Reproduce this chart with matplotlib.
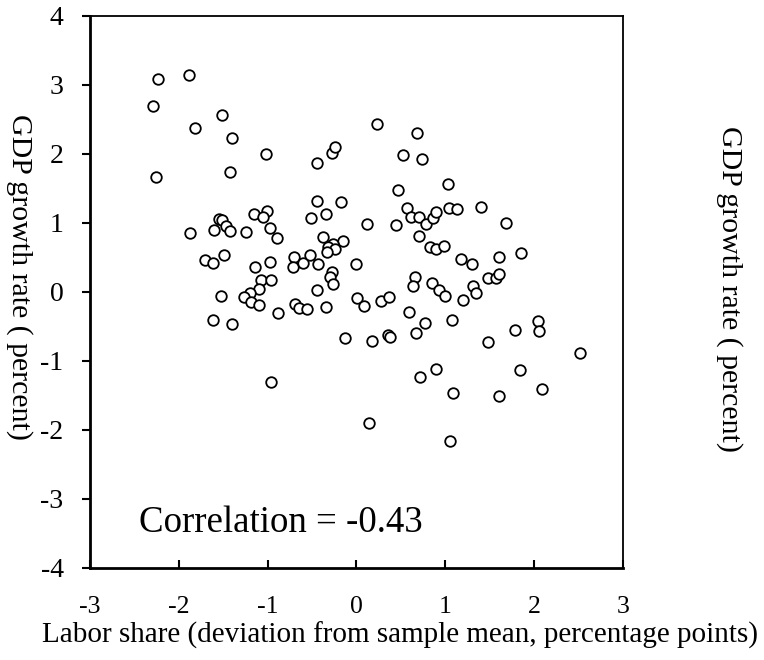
import matplotlib
matplotlib.use("Agg")
import matplotlib.pyplot as plt

plt.rcParams['font.family'] = ['Liberation Serif', 'DejaVu Serif']
plt.rcParams['axes.unicode_minus'] = False

# donnees : ecart de la part salariale vs croissance du PIB
labor_share = [
    -2.24, -1.89, -2.29, -1.51, -1.82, -1.40, -1.02, -0.28, -0.24, -0.45,
    -2.26, -1.42, -0.44, -0.17, -1.01, -1.15, -1.05, -0.34, -0.51, -1.55,
    -1.51, -1.47, -1.42, -1.60, -1.87, -1.24, -0.97, -0.89, -0.38, -0.15,
    -0.26, -0.32, -0.24, -0.33, -1.71, -1.61, -1.49, -1.14, -0.97, -0.70,
    -0.71, -0.60, -0.52, -0.43, -0.27, -0.30, -0.26, 0.00, -1.07, -0.96,
    -1.10, -1.20, -1.53, -1.27, -0.44, 0.01,
    -1.19, -1.10, -1.61, -1.40, -0.88, -0.69, -0.65, -0.56, -0.34, -0.13, -0.96,
    0.23, 0.68, 0.52, 0.74, 1.03, 0.47, 0.57, 0.61, 0.70, 0.78,
    0.86, 0.90, 1.04, 1.13, 1.40, 0.12, 0.44, 1.68, 0.70, 0.83,
    0.90, 0.98, 1.18, 1.30, 1.61, 1.85, 0.66, 0.64, 0.85, 0.93,
    1.00, 1.31, 1.34, 1.48, 1.57, 1.60,
    0.09, 0.28, 0.37, 1.20, 0.59, 0.17, 0.35, 0.38, 0.67, 0.77,
    1.08, 1.48, 1.78, 2.04, 2.05, 2.52, 0.72, 0.89, 1.84, 1.09,
    1.61, 2.09, 0.14, 1.05,
]
gdp_growth = [
    3.09, 3.15, 2.69, 2.57, 2.38, 2.23, 2.00, 2.02, 2.10, 1.87,
    1.67, 1.74, 1.32, 1.30, 1.18, 1.13, 1.09, 1.13, 1.07, 1.06,
    1.04, 0.96, 0.89, 0.90, 0.86, 0.87, 0.93, 0.78, 0.79, 0.74,
    0.70, 0.65, 0.63, 0.58, 0.47, 0.42, 0.54, 0.36, 0.43, 0.50,
    0.36, 0.42, 0.53, 0.41, 0.29, 0.21, 0.12, 0.40, 0.17, 0.17,
    0.05, -0.02, -0.06, -0.07, 0.03, -0.09,
    -0.15, -0.19, -0.40, -0.47, -0.31, -0.17, -0.23, -0.25, -0.22, -0.67, -1.30,
    2.44, 2.31, 1.98, 1.92, 1.57, 1.48, 1.21, 1.09, 1.08, 0.98,
    1.07, 1.16, 1.22, 1.20, 1.23, 0.98, 0.97, 1.00, 0.81, 0.65,
    0.62, 0.67, 0.48, 0.41, 0.50, 0.56, 0.21, 0.08, 0.13, 0.03,
    -0.06, 0.09, -0.02, 0.20, 0.20, 0.26,
    -0.20, -0.13, -0.07, -0.12, -0.29, -0.71, -0.63, -0.65, -0.60, -0.45,
    -0.41, -0.72, -0.55, -0.42, -0.57, -0.89, -1.23, -1.12, -1.13, -1.46,
    -1.51, -1.41, -1.90, -2.16,
]
x_ticks = [-3, -2, -1, 0, 1, 2, 3]
y_ticks = [-4, -3, -2, -1, 0, 1, 2, 3, 4]
y_titre = "GDP growth rate ( percent)"
x_titre = "Labor share (deviation from sample mean, percentage points)"
texte_corr = "Correlation = -0.43"

fig = plt.figure(figsize=(7.64, 6.6), dpi=100)
ax = fig.add_axes([0.1178, 0.1394, 0.6976, 0.8364])

ax.scatter(labor_share, gdp_growth, s=58, facecolors='white', edgecolors='black',
           linewidths=1.3, zorder=3)

ax.set_xlim(-3, 3)
ax.set_ylim(-4, 4)
ax.set_xticks(x_ticks)
ax.set_yticks(y_ticks)
# x : graduations vers l'interieur, y : vers l'exterieur
ax.tick_params(axis='x', direction='in', length=6, width=1.5, labelsize=18.5, pad=20)
ax.tick_params(axis='y', direction='out', length=6, width=1.5, labelsize=20, pad=13)

ax.spines['left'].set_linewidth(2.0)
ax.spines['bottom'].set_linewidth(2.0)
ax.spines['top'].set_linewidth(1.3)
ax.spines['right'].set_linewidth(1.3)

ax.text(-2.45, -3.35, texte_corr, fontsize=26.6, va='center', ha='left')

# titres places a la main (comme dans l'original, centres sur la figure)
fig.text(0.5236, 0.038, x_titre, fontsize=21, ha='center', va='center')
fig.text(0.026, 0.581, y_titre, fontsize=21.5, rotation=-90, ha='center', va='center')
fig.text(0.955, 0.562, y_titre, fontsize=21.5, rotation=-90, ha='center', va='center')

plt.savefig('out.png', dpi=100)
